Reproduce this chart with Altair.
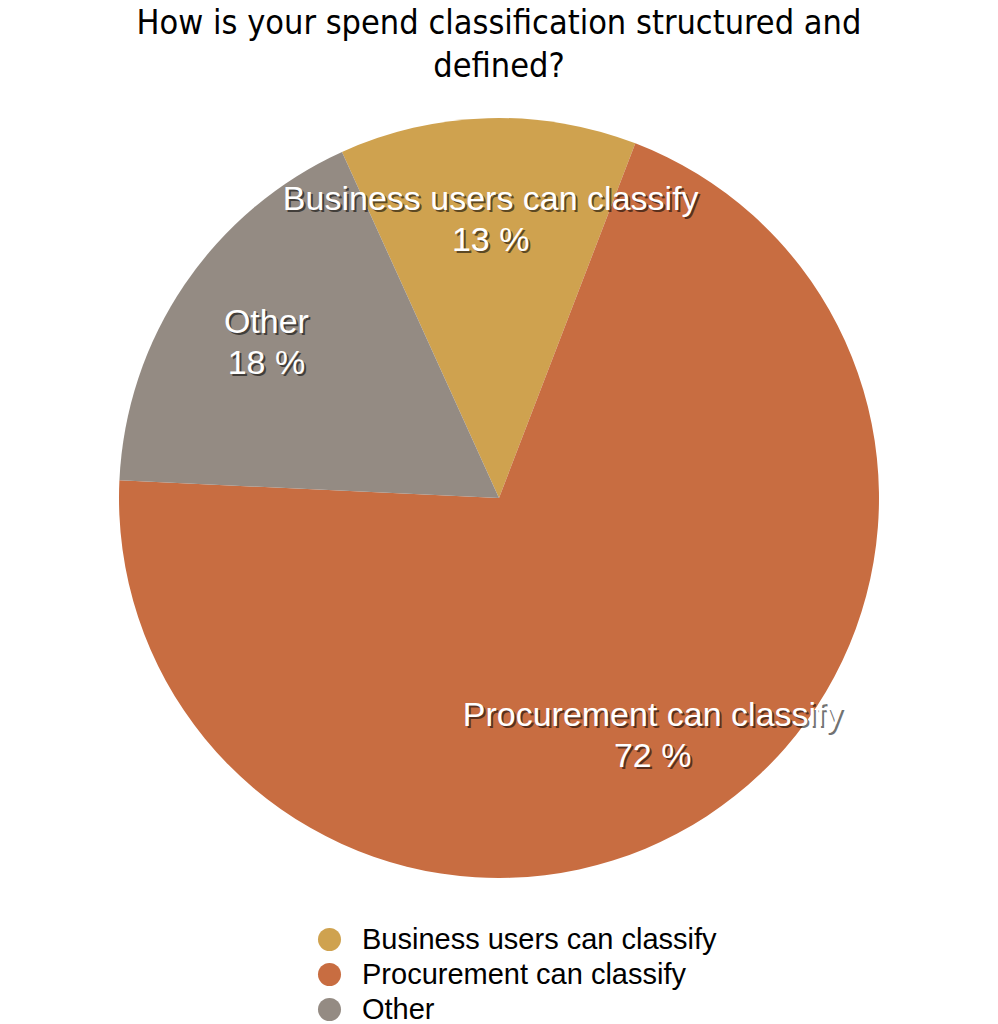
import altair as alt
import pandas as pd

categories = ["Business users can classify", "Procurement can classify", "Other"]
values = [13, 72, 18]
pct_labels = ["13 %", "72 %", "18 %"]
colors = ["#CFA24F", "#C86D41", "#948B83"]
title_lines = ["How is your spend classification structured and", "defined?"]

df = pd.DataFrame({
    "category": categories,
    "value": values,
    "order": list(range(len(categories))),
    "label": [f"{c}\n{p}" for c, p in zip(categories, pct_labels)],
})
tdf = pd.DataFrame({"line": title_lines, "row": list(range(len(title_lines)))})

start = -0.426
theta_scale = alt.Scale(range=[start, start + 6.283185])
cx, cy = 491, 490

base = alt.Chart(df).encode(
    theta=alt.Theta("value:Q", stack=True, scale=theta_scale),
    order=alt.Order("order:Q"),
)

pie = base.mark_arc(outerRadius=380).encode(
    x=alt.value(cx), y=alt.value(cy),
    color=alt.Color("category:N", sort=categories,
                    scale=alt.Scale(domain=categories, range=colors),
                    legend=alt.Legend(title=None, orient="none", legendX=307, legendY=917,
                                      symbolType="circle", symbolSize=530, symbolStrokeWidth=0,
                                      labelFont="Liberation Sans", labelFontSize=29,
                                      labelColor="#000000", labelOffset=18,
                                      rowPadding=5, padding=0, labelLimit=600)),
)

lbl_kw = dict(radius=281, font="Liberation Sans", fontSize=34, lineBreak="\n", lineHeight=41)
shadow = base.mark_text(color="#000000", opacity=0.55, dx=2, dy=-15, **lbl_kw).encode(
    x=alt.value(cx), y=alt.value(cy), text="label:N")
labels = base.mark_text(color="#FFFFFF", dy=-17, **lbl_kw).encode(
    x=alt.value(cx), y=alt.value(cy), text="label:N")

title = alt.Chart(tdf).mark_text(font="Liberation Sans Narrow, DejaVu Sans Condensed, sans-serif",
                                 fontSize=34, color="#000000", baseline="middle").encode(
    x=alt.value(491),
    y=alt.Y("row:Q", axis=None, scale=alt.Scale(domain=[0, 1], range=[16, 59])),
    text="line:N",
)

chart = alt.layer(pie, shadow, labels, title).resolve_scale(y="independent").properties(
    width=982, height=1016, autosize=alt.AutoSizeParams(type="none"), padding=0
).configure_view(stroke=None)

chart.save("out.html", embed_options={"renderer": "svg", "actions": False})
